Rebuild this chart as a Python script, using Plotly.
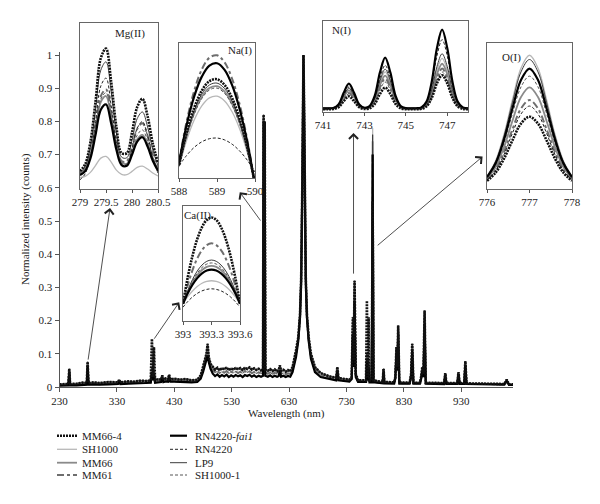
import plotly.graph_objects as go

W, H = 600, 504
FONT = "Liberation Serif"
TXT = "#222222"
AX = "#555555"

SERIES = ["MM66-4", "SH1000", "MM66", "MM61", "RN4220-fai1", "RN4220", "LP9", "SH1000-1"]
LEGEND_TEXT = ["MM66-4", "SH1000", "MM66", "MM61", "RN4220-<i>fai1</i>", "RN4220", "LP9", "SH1000-1"]
DRAW_ORDER = ["SH1000", "MM66", "LP9", "SH1000-1", "MM61", "RN4220", "RN4220-fai1", "MM66-4"]

STYLE = {
    "MM66-4": dict(color="#111111", width=2.6, dash="2px,1px"),
    "SH1000": dict(color="#b8b8b8", width=1.3, dash="solid"),
    "MM66": dict(color="#8a8a8a", width=1.8, dash="solid"),
    "MM61": dict(color="#6e6e6e", width=2.0, dash="7px,3px,3px,3px"),
    "RN4220-fai1": dict(color="#000000", width=2.2, dash="solid"),
    "RN4220": dict(color="#222222", width=1.0, dash="3px,2px"),
    "LP9": dict(color="#3c3c3c", width=1.0, dash="solid"),
    "SH1000-1": dict(color="#555555", width=1.0, dash="3px,2px"),
}

# ---------------- main spectrum (wavelength nm, normalized intensity) ----------------
MAIN_WL = [230, 240, 245.5, 247, 248.5, 260, 270, 277.5, 279, 280.5,
           290, 300, 315, 332, 334, 336, 350, 360, 370, 380,
           389, 391, 393, 394.5, 396.5, 402, 407, 409, 411, 415,
           419, 421, 423, 430, 440, 450, 460, 470, 476, 480,
           483, 486, 488, 490, 493, 497, 501, 505, 509, 513,
           517, 521, 525, 529, 533, 537, 541, 545, 549, 553,
           557, 561, 565, 569, 573, 577, 581, 584.5, 585.5, 586.5,
           587.5, 588.5, 593, 597, 601, 605, 609, 612, 614, 616,
           620, 624, 628, 632, 636, 642, 646, 649, 651, 653,
           654, 655, 656, 657, 659, 661, 664, 668, 675, 685,
           695, 700, 712, 714, 716, 725, 735, 739, 741, 742.5,
           744, 746, 750, 764, 765.5, 767, 768.5, 770, 774, 775.5,
           777, 793, 794.5, 796, 813, 815, 817, 818.5, 820, 822,
           840, 842.5, 844.5, 846.5, 858, 860, 862, 864, 866, 868,
           900, 902, 904, 923, 925, 927, 935, 937, 939, 1005,
           1009, 1013, 1020]
MAIN_HIGH = [0.008, 0.009, 0.009, 0.055, 0.009, 0.010, 0.013, 0.012, 0.076, 0.012,
             0.014, 0.012, 0.015, 0.014, 0.022, 0.014, 0.017, 0.016, 0.019, 0.018,
             0.020, 0.060, 0.030, 0.050, 0.020, 0.024, 0.022, 0.035, 0.022, 0.026,
             0.023, 0.037, 0.023, 0.025, 0.022, 0.024, 0.020, 0.022, 0.035, 0.060,
             0.080, 0.100, 0.130, 0.090, 0.070, 0.060, 0.052, 0.058, 0.050, 0.057,
             0.053, 0.059, 0.051, 0.056, 0.052, 0.058, 0.053, 0.057, 0.051, 0.058,
             0.054, 0.059, 0.052, 0.056, 0.051, 0.055, 0.050, 0.053, 0.820, 0.500,
             0.800, 0.053, 0.049, 0.054, 0.048, 0.053, 0.047, 0.052, 0.065, 0.048,
             0.052, 0.046, 0.051, 0.047, 0.060, 0.110, 0.150, 0.220, 0.330, 0.610,
             0.860, 1.000, 0.860, 0.610, 0.330, 0.220, 0.150, 0.100, 0.060, 0.042,
             0.036, 0.032, 0.028, 0.060, 0.027, 0.025, 0.022, 0.030, 0.210, 0.080,
             0.320, 0.040, 0.020, 0.020, 0.100, 0.030, 0.080, 0.020, 0.020, 0.700,
             0.020, 0.015, 0.055, 0.015, 0.014, 0.030, 0.120, 0.060, 0.185, 0.014,
             0.013, 0.040, 0.130, 0.013, 0.013, 0.030, 0.060, 0.040, 0.230, 0.013,
             0.012, 0.042, 0.012, 0.012, 0.045, 0.012, 0.012, 0.078, 0.011, 0.009,
             0.022, 0.008, 0.008]
MAIN_MID = [0.006, 0.007, 0.007, 0.050, 0.007, 0.008, 0.009, 0.009, 0.070, 0.009,
            0.010, 0.009, 0.011, 0.011, 0.019, 0.011, 0.013, 0.013, 0.015, 0.015,
            0.016, 0.052, 0.025, 0.045, 0.016, 0.019, 0.018, 0.031, 0.018, 0.021,
            0.019, 0.033, 0.019, 0.020, 0.018, 0.019, 0.017, 0.018, 0.030, 0.052,
            0.072, 0.092, 0.110, 0.082, 0.062, 0.050, 0.044, 0.047, 0.042, 0.046,
            0.043, 0.048, 0.041, 0.046, 0.043, 0.047, 0.042, 0.046, 0.041, 0.048,
            0.044, 0.047, 0.042, 0.045, 0.041, 0.044, 0.041, 0.043, 0.810, 0.470,
            0.790, 0.043, 0.040, 0.044, 0.039, 0.043, 0.039, 0.042, 0.057, 0.040,
            0.042, 0.038, 0.041, 0.039, 0.052, 0.100, 0.145, 0.215, 0.325, 0.605,
            0.855, 1.000, 0.855, 0.605, 0.325, 0.215, 0.145, 0.092, 0.052, 0.036,
            0.031, 0.028, 0.024, 0.055, 0.023, 0.021, 0.019, 0.027, 0.185, 0.070,
            0.290, 0.035, 0.017, 0.017, 0.090, 0.025, 0.070, 0.017, 0.017, 0.700,
            0.017, 0.013, 0.050, 0.013, 0.012, 0.028, 0.110, 0.055, 0.172, 0.012,
            0.011, 0.035, 0.120, 0.011, 0.011, 0.028, 0.055, 0.035, 0.210, 0.011,
            0.010, 0.038, 0.010, 0.010, 0.041, 0.010, 0.010, 0.071, 0.010, 0.008,
            0.020, 0.007, 0.007]
MAIN_LOW = [0.004, 0.005, 0.005, 0.045, 0.005, 0.005, 0.006, 0.007, 0.065, 0.007,
            0.008, 0.007, 0.008, 0.009, 0.016, 0.009, 0.010, 0.010, 0.011, 0.012,
            0.013, 0.045, 0.020, 0.040, 0.013, 0.015, 0.015, 0.028, 0.015, 0.017,
            0.016, 0.030, 0.016, 0.016, 0.015, 0.015, 0.014, 0.015, 0.025, 0.045,
            0.065, 0.085, 0.095, 0.075, 0.055, 0.040, 0.033, 0.038, 0.031, 0.036,
            0.032, 0.037, 0.030, 0.035, 0.031, 0.036, 0.032, 0.035, 0.030, 0.036,
            0.033, 0.037, 0.031, 0.035, 0.030, 0.034, 0.031, 0.034, 0.800, 0.450,
            0.780, 0.034, 0.031, 0.035, 0.030, 0.034, 0.031, 0.033, 0.050, 0.031,
            0.034, 0.030, 0.033, 0.031, 0.045, 0.090, 0.140, 0.210, 0.320, 0.600,
            0.850, 1.000, 0.850, 0.600, 0.320, 0.210, 0.140, 0.085, 0.045, 0.030,
            0.026, 0.024, 0.020, 0.050, 0.020, 0.018, 0.016, 0.024, 0.160, 0.060,
            0.260, 0.030, 0.015, 0.015, 0.080, 0.020, 0.060, 0.014, 0.014, 0.700,
            0.014, 0.011, 0.045, 0.011, 0.010, 0.025, 0.100, 0.050, 0.160, 0.010,
            0.010, 0.030, 0.110, 0.010, 0.010, 0.025, 0.050, 0.030, 0.190, 0.010,
            0.009, 0.035, 0.009, 0.009, 0.038, 0.009, 0.009, 0.065, 0.009, 0.007,
            0.018, 0.006, 0.006]
MAIN_GROUP = {"MM66-4": "high", "LP9": "high", "MM66": "high",
              "MM61": "mid", "SH1000-1": "mid", "SH1000": "mid",
              "RN4220-fai1": "low", "RN4220": "low"}
# series whose individual lines differ at some peaks (wavelength -> intensity)
MAIN_PEAKS_MM66_4 = {391: 0.145, 394.5: 0.120, 765.5: 0.260, 768.5: 0.210, 775.5: 0.560}
MAIN_PEAKS_SH1000 = {775.5: 0.780}
MAIN_PEAKS_LP9 = {775.5: 0.760}
MAIN_PEAKS_MM66 = {775.5: 0.740}
MAIN_OVERRIDES = {"MM66-4": MAIN_PEAKS_MM66_4, "SH1000": MAIN_PEAKS_SH1000,
                  "LP9": MAIN_PEAKS_LP9, "MM66": MAIN_PEAKS_MM66}

# ---------------- Mg(II) inset ----------------
MG_WL = [279.0, 279.1, 279.2, 279.3, 279.4, 279.5, 279.6, 279.7, 279.8, 279.9,
         280.0, 280.1, 280.2, 280.3, 280.4, 280.5]
MG_I = {
    "MM66-4": [0.650, 0.671, 0.737, 0.861, 0.990, 1.019, 0.918, 0.783, 0.704, 0.704, 0.766, 0.843, 0.868, 0.815, 0.733, 0.675],
    "SH1000": [0.631, 0.634, 0.646, 0.667, 0.689, 0.694, 0.677, 0.653, 0.640, 0.639, 0.649, 0.661, 0.665, 0.656, 0.644, 0.635],
    "MM66": [0.643, 0.657, 0.698, 0.777, 0.858, 0.876, 0.813, 0.726, 0.676, 0.672, 0.705, 0.746, 0.759, 0.731, 0.687, 0.656],
    "MM61": [0.643, 0.658, 0.703, 0.788, 0.876, 0.896, 0.827, 0.735, 0.680, 0.680, 0.723, 0.777, 0.794, 0.757, 0.700, 0.661],
    "RN4220-fai1": [0.638, 0.650, 0.688, 0.760, 0.835, 0.851, 0.793, 0.714, 0.668, 0.666, 0.699, 0.739, 0.752, 0.724, 0.681, 0.651],
    "RN4220": [0.624, 0.642, 0.696, 0.799, 0.906, 0.930, 0.846, 0.734, 0.668, 0.668, 0.717, 0.779, 0.799, 0.756, 0.690, 0.644],
    "LP9": [0.645, 0.664, 0.723, 0.836, 0.954, 0.979, 0.888, 0.765, 0.692, 0.690, 0.742, 0.808, 0.828, 0.783, 0.714, 0.666],
    "SH1000-1": [0.638, 0.653, 0.696, 0.780, 0.867, 0.886, 0.818, 0.728, 0.673, 0.672, 0.710, 0.758, 0.774, 0.741, 0.689, 0.654],
}

# ---------------- Na(I) inset ----------------
NA_WL = [588.0, 588.2, 588.4, 588.6, 588.8, 589.0, 589.2, 589.4, 589.6, 589.8, 590.0]
NA_I = {
    "MM66-4": [0.097, 0.336, 0.520, 0.647, 0.717, 0.732, 0.689, 0.590, 0.435, 0.224, -0.044],
    "SH1000": [0.081, 0.279, 0.430, 0.535, 0.594, 0.606, 0.571, 0.489, 0.361, 0.186, -0.036],
    "MM66": [0.091, 0.313, 0.483, 0.601, 0.666, 0.680, 0.640, 0.548, 0.405, 0.208, -0.041],
    "MM61": [0.121, 0.418, 0.646, 0.804, 0.891, 0.909, 0.856, 0.733, 0.541, 0.279, -0.055],
    "RN4220-fai1": [0.113, 0.391, 0.604, 0.751, 0.833, 0.850, 0.801, 0.686, 0.506, 0.261, -0.051],
    "RN4220": [0.090, 0.167, 0.227, 0.268, 0.291, 0.296, 0.282, 0.250, 0.199, 0.131, 0.044],
    "LP9": [0.094, 0.323, 0.499, 0.621, 0.689, 0.703, 0.662, 0.567, 0.418, 0.215, -0.042],
    "SH1000-1": [0.089, 0.306, 0.473, 0.588, 0.652, 0.666, 0.627, 0.537, 0.396, 0.204, -0.040],
}

# ---------------- Ca(II) inset ----------------
CA_WL = [393.0, 393.05, 393.1, 393.15, 393.2, 393.25, 393.3, 393.35, 393.4, 393.45, 393.5, 393.55, 393.6]
CA_I = {
    "MM66-4": [0.150, 0.380, 0.567, 0.713, 0.816, 0.879, 0.900, 0.879, 0.816, 0.713, 0.567, 0.380, 0.150],
    "SH1000": [0.150, 0.211, 0.261, 0.300, 0.328, 0.344, 0.350, 0.344, 0.328, 0.300, 0.261, 0.211, 0.150],
    "MM66": [0.150, 0.251, 0.333, 0.398, 0.443, 0.471, 0.480, 0.471, 0.443, 0.398, 0.333, 0.251, 0.150],
    "MM61": [0.150, 0.311, 0.442, 0.544, 0.616, 0.660, 0.675, 0.660, 0.616, 0.544, 0.442, 0.311, 0.150],
    "RN4220-fai1": [0.150, 0.241, 0.315, 0.373, 0.414, 0.439, 0.447, 0.439, 0.414, 0.373, 0.315, 0.241, 0.150],
    "RN4220": [0.120, 0.169, 0.209, 0.240, 0.262, 0.275, 0.280, 0.275, 0.262, 0.240, 0.209, 0.169, 0.120],
    "LP9": [0.150, 0.266, 0.361, 0.435, 0.487, 0.519, 0.530, 0.519, 0.487, 0.435, 0.361, 0.266, 0.150],
    "SH1000-1": [0.150, 0.259, 0.347, 0.416, 0.465, 0.495, 0.505, 0.495, 0.465, 0.416, 0.347, 0.259, 0.150],
}

# ---------------- N(I) inset ----------------
N_WL = [741.0, 741.25, 741.5, 741.75, 742.0, 742.25, 742.5, 742.75, 743.0, 743.25,
        743.5, 743.75, 744.0, 744.25, 744.5, 744.75, 745.0, 745.25, 745.5, 745.75,
        746.0, 746.25, 746.5, 746.75, 747.0, 747.25, 747.5, 747.75, 748.0]
N_I = {
    "RN4220-fai1": [0.040, 0.040, 0.044, 0.083, 0.211, 0.312, 0.211, 0.083, 0.047, 0.065, 0.179, 0.435, 0.598, 0.435, 0.179, 0.065, 0.042, 0.040, 0.041, 0.051, 0.116, 0.333, 0.700, 0.905, 0.700, 0.333, 0.116, 0.051, 0.041],
    "RN4220": [0.040, 0.040, 0.044, 0.077, 0.188, 0.275, 0.188, 0.077, 0.046, 0.061, 0.158, 0.374, 0.513, 0.374, 0.158, 0.061, 0.042, 0.040, 0.041, 0.050, 0.106, 0.296, 0.616, 0.795, 0.616, 0.296, 0.106, 0.050, 0.041],
    "LP9": [0.040, 0.040, 0.044, 0.075, 0.179, 0.260, 0.179, 0.075, 0.045, 0.059, 0.147, 0.344, 0.470, 0.344, 0.147, 0.059, 0.042, 0.040, 0.041, 0.048, 0.093, 0.243, 0.498, 0.640, 0.498, 0.243, 0.093, 0.048, 0.041],
    "SH1000": [0.045, 0.045, 0.048, 0.075, 0.167, 0.238, 0.167, 0.075, 0.050, 0.062, 0.143, 0.324, 0.440, 0.324, 0.143, 0.062, 0.047, 0.045, 0.046, 0.052, 0.093, 0.230, 0.461, 0.590, 0.461, 0.230, 0.093, 0.052, 0.046],
    "MM66": [0.040, 0.040, 0.043, 0.071, 0.165, 0.238, 0.165, 0.071, 0.045, 0.056, 0.130, 0.295, 0.400, 0.295, 0.130, 0.056, 0.041, 0.040, 0.040, 0.046, 0.083, 0.206, 0.414, 0.530, 0.414, 0.206, 0.083, 0.046, 0.040],
    "MM61": [0.035, 0.035, 0.038, 0.062, 0.145, 0.209, 0.145, 0.062, 0.039, 0.050, 0.118, 0.270, 0.367, 0.270, 0.118, 0.050, 0.036, 0.035, 0.035, 0.041, 0.074, 0.185, 0.372, 0.477, 0.372, 0.185, 0.074, 0.041, 0.035],
    "SH1000-1": [0.035, 0.035, 0.038, 0.061, 0.139, 0.200, 0.139, 0.061, 0.039, 0.048, 0.108, 0.244, 0.330, 0.244, 0.108, 0.048, 0.036, 0.035, 0.035, 0.040, 0.071, 0.172, 0.344, 0.440, 0.344, 0.172, 0.071, 0.040, 0.035],
    "MM66-4": [0.030, 0.030, 0.032, 0.052, 0.119, 0.172, 0.119, 0.052, 0.033, 0.040, 0.089, 0.198, 0.268, 0.198, 0.089, 0.040, 0.031, 0.030, 0.030, 0.035, 0.063, 0.156, 0.315, 0.403, 0.315, 0.156, 0.063, 0.035, 0.030],
}

# ---------------- O(I) inset ----------------
O_WL = [776.0, 776.2, 776.4, 776.6, 776.8, 777.0, 777.2, 777.4, 777.6, 777.8, 778.0]
O_I = {
    "SH1000": [0.088, 0.191, 0.374, 0.613, 0.828, 0.916, 0.828, 0.613, 0.374, 0.191, 0.088],
    "LP9": [0.086, 0.186, 0.362, 0.594, 0.802, 0.887, 0.802, 0.594, 0.362, 0.186, 0.086],
    "RN4220-fai1": [0.081, 0.174, 0.338, 0.553, 0.746, 0.825, 0.746, 0.553, 0.338, 0.174, 0.081],
    "SH1000-1": [0.077, 0.164, 0.317, 0.518, 0.699, 0.773, 0.699, 0.518, 0.317, 0.164, 0.077],
    "MM66": [0.071, 0.149, 0.287, 0.468, 0.630, 0.696, 0.630, 0.468, 0.287, 0.149, 0.071],
    "MM61": [0.065, 0.132, 0.253, 0.410, 0.551, 0.609, 0.551, 0.410, 0.253, 0.132, 0.065],
    "RN4220": [0.061, 0.125, 0.236, 0.383, 0.514, 0.568, 0.514, 0.383, 0.236, 0.125, 0.061],
    "MM66-4": [0.056, 0.111, 0.208, 0.334, 0.448, 0.495, 0.448, 0.334, 0.208, 0.111, 0.056],
}

# inset tick labels
MG_TICKS = [279, 279.5, 280, 280.5]
NA_TICKS = [588, 589, 590]
CA_TICKS = [393, 393.3, 393.6]
N_TICKS = [741, 743, 745, 747]
O_TICKS = [776, 777, 778]

assert len(MAIN_WL) == len(MAIN_HIGH) == len(MAIN_MID) == len(MAIN_LOW)

fig = go.Figure()

def line_of(s):
    st = STYLE[s]
    return dict(color=st["color"], width=st["width"], dash=st["dash"])

MAIN_BY_GROUP = {"high": MAIN_HIGH, "mid": MAIN_MID, "low": MAIN_LOW}

# main spectra
for s in DRAW_ORDER:
    y = list(MAIN_BY_GROUP[MAIN_GROUP[s]])
    for wl, val in MAIN_OVERRIDES.get(s, {}).items():
        y[MAIN_WL.index(wl)] = val
    fig.add_trace(go.Scatter(x=MAIN_WL, y=y, mode="lines", name=s, line=line_of(s),
                             xaxis="x", yaxis="y", showlegend=False, hoverinfo="skip"))

INSETS = [
    (2, MG_WL, MG_I), (3, NA_WL, NA_I), (4, CA_WL, CA_I), (5, N_WL, N_I), (6, O_WL, O_I)
]
for n, wl, data in INSETS:
    for s in DRAW_ORDER:
        fig.add_trace(go.Scatter(x=wl, y=data[s], mode="lines", name=s, line=line_of(s),
                                 line_shape="spline", xaxis=f"x{n}", yaxis=f"y{n}",
                                 showlegend=False, hoverinfo="skip"))

def px(xp):
    return xp / W

def py(yp):
    return 1 - yp / H

layout = dict(
    width=W, height=H, margin=dict(l=0, r=0, t=0, b=0, autoexpand=False),
    paper_bgcolor="white", plot_bgcolor="white",
    font=dict(family=FONT, size=11, color=TXT),
    showlegend=False,
    xaxis=dict(domain=[px(59.5), px(513)], range=[230, 1020], tick0=230, dtick=100,
               ticks="outside", ticklen=4, tickcolor=AX, showline=True, linecolor=AX,
               linewidth=1, showgrid=False, zeroline=False, anchor="y", automargin=False,
               title=dict(text="Wavelength (nm)", standoff=3, font=dict(size=11))),
    yaxis=dict(domain=[py(387), py(51.7)], range=[0, 1.01], tick0=0, dtick=0.1,
               ticks="outside", ticklen=4, tickcolor=AX, showline=True, linecolor=AX,
               linewidth=1, showgrid=False, zeroline=False, anchor="x", automargin=False,
               title=dict(text="Normalized intensity (counts)", standoff=6, font=dict(size=11))),
)

INSET_GEOM = {
    2: dict(x=(80, 158), y=(23, 189), xr=[279, 280.5], yr=[0.596, 1.096], ticks=MG_TICKS),
    3: dict(x=(179, 255), y=(43, 178), xr=[588, 590], yr=[0, 1], ticks=NA_TICKS),
    4: dict(x=(183, 240), y=(206, 321), xr=[393, 393.6], yr=[0, 1], ticks=CA_TICKS),
    5: dict(x=(323, 468), y=(21, 112), xr=[741, 748], yr=[0, 1], ticks=N_TICKS),
    6: dict(x=(487, 572), y=(43, 189), xr=[776, 778], yr=[0, 1], ticks=O_TICKS),
}
for n, g in INSET_GEOM.items():
    layout[f"xaxis{n}"] = dict(domain=[px(g["x"][0]), px(g["x"][1])], range=g["xr"],
                               tickvals=g["ticks"], ticktext=[str(t) for t in g["ticks"]],
                               ticks="outside", ticklen=3, tickcolor=AX, showline=True,
                               mirror=True, linecolor="#666666", linewidth=1, showgrid=False,
                               zeroline=False, anchor=f"y{n}", automargin=False,
                               tickfont=dict(size=11))
    layout[f"yaxis{n}"] = dict(domain=[py(g["y"][1]), py(g["y"][0])], range=g["yr"],
                               showticklabels=False, ticks="", showline=True, mirror=True,
                               linecolor="#666666", linewidth=1, showgrid=False,
                               zeroline=False, anchor=f"x{n}", automargin=False)

fig.update_layout(**layout)

# inset titles
TITLES = [("Mg(II)", 130, 34), ("Na(I)", 240, 51), ("Ca(II)", 197, 215), ("N(I)", 341, 30), ("O(I)", 511, 57)]
for t, xp, yp in TITLES:
    fig.add_annotation(text=t, x=px(xp), y=py(yp), xref="paper", yref="paper",
                       showarrow=False, xanchor="center", yanchor="middle",
                       font=dict(size=11, color=TXT))

# arrows from spectral lines to insets (main-axis data coordinates: head, tail)
ARROWS = [
    ((318, 0.539), (279.5, 0.078)),
    ((438.5, 0.255), (393.3, 0.141)),
    ((544, 0.587), (582, 0.497)),
    ((742.2, 0.765), (742.2, 0.337)),
    ((967, 0.694), (781.7, 0.423)),
]
for (hx, hy), (tx, ty) in ARROWS:
    fig.add_annotation(x=hx, y=hy, ax=tx, ay=ty, xref="x", yref="y", axref="x", ayref="y",
                       text="", showarrow=True, arrowhead=4, arrowsize=2.2, arrowwidth=0.8,
                       arrowcolor="#222222", standoff=0, startstandoff=0)

# manual two-column legend
LEG_COLS = [(57, 77, 80), (170, 187, 193)]
LEG_ROWS = [435.7, 449.3, 462.7, 475]
for i, s in enumerate(SERIES):
    c = i // 4
    r = i % 4
    x0, x1, xt = LEG_COLS[c]
    yy = LEG_ROWS[r]
    st = STYLE[s]
    fig.add_shape(type="line", xref="paper", yref="paper", x0=px(x0), x1=px(x1),
                  y0=py(yy), y1=py(yy),
                  line=dict(color=st["color"], width=st["width"], dash=st["dash"]))
    fig.add_annotation(text=LEGEND_TEXT[i], x=px(xt), y=py(yy), xref="paper", yref="paper",
                       showarrow=False, xanchor="left", yanchor="middle",
                       font=dict(size=11, color=TXT))

fig.write_html("out.html", config={"displayModeBar": False},
               post_script="document.body.style.margin='0';")
